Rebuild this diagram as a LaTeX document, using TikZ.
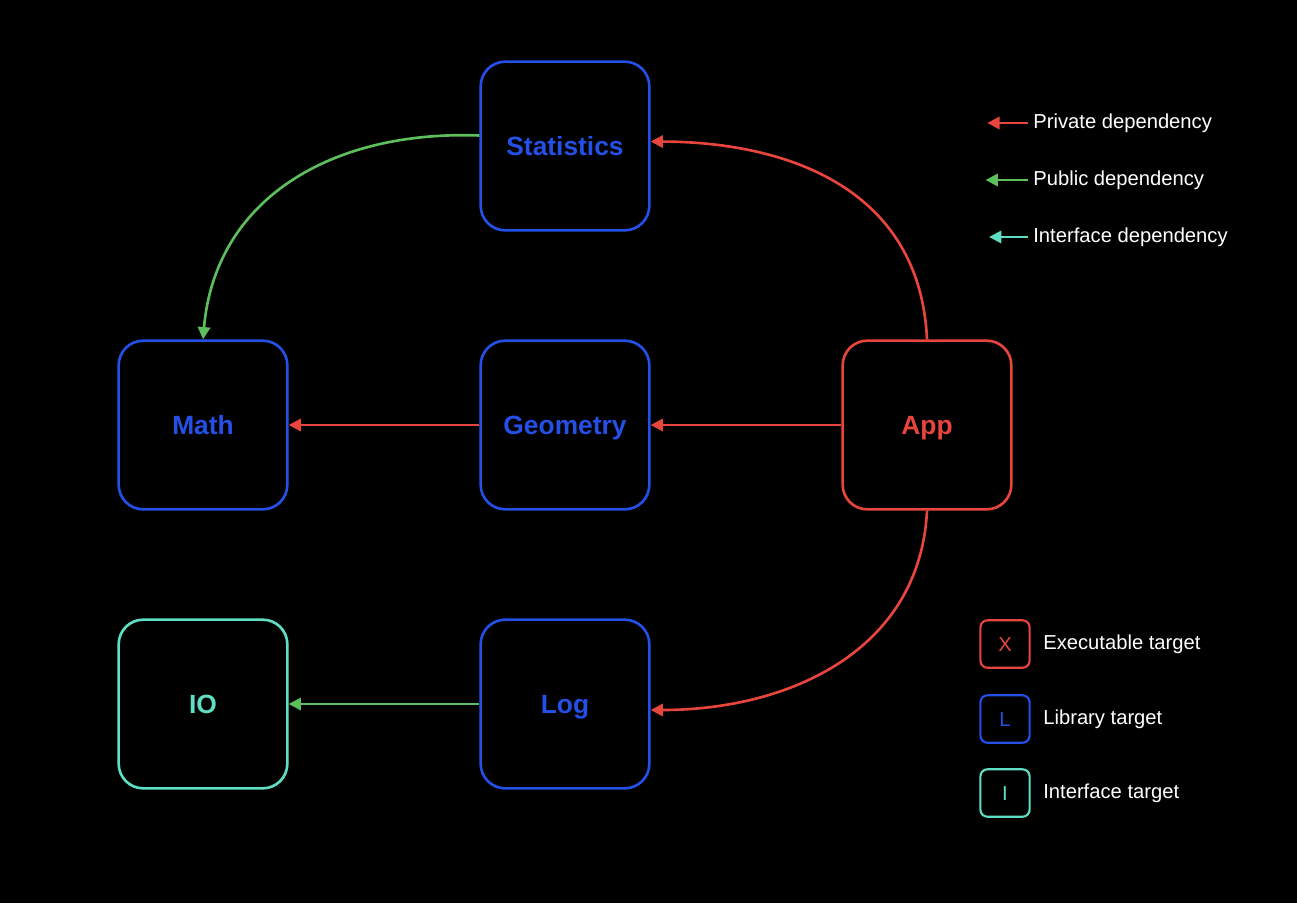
\documentclass[tikz,border=0pt]{standalone}
\usepackage{fontspec}
\setmainfont{Liberation Sans}
\usetikzlibrary{arrows.meta,positioning}
\definecolor{exered}{HTML}{E8453C}
\definecolor{libblue}{HTML}{2450E8}
\definecolor{pubgreen}{HTML}{5CBF5C}
\definecolor{ifcyan}{HTML}{5EDFC4}
\tikzset{
    >={Triangle[length=7pt,width=7pt]},
    target/.style={draw, line width=1.5pt, rounded corners=14pt,
        minimum width=96pt, minimum height=96pt,
        text height=10.7pt, text depth=0pt,
        font=\fontsize{15}{18}\selectfont\bfseries},
    executable/.style={target, draw=exered, text=exered},
    library/.style={target, draw=libblue, text=libblue},
    interfacetarget/.style={target, draw=ifcyan, text=ifcyan},
    legendbox/.style={draw, line width=1.2pt, rounded corners=4pt,
        minimum width=28pt, minimum height=27pt,
        text height=8.2pt, text depth=0pt,
        font=\fontsize{11.5}{14}\selectfont},
    legendtext/.style={text=white, anchor=west, inner sep=0pt,
        font=\fontsize{11.5}{14}\selectfont},
    private/.style={draw=exered, line width=1.5pt, ->},
    public/.style={draw=pubgreen, line width=1.5pt, ->},
    interfacedep/.style={draw=ifcyan, line width=1.5pt, ->}
}
\begin{document}
\begin{tikzpicture}[x=0.02cm,y=-0.02cm]
	\fill[black] (0,0) rectangle (1297,903);
	% targets
	\node[library] (stat) at (565,146) {Statistics};
	\node[library] (math) at (203,425) {Math};
	\node[library] (geom) at (565,425) {Geometry};
	\node[executable] (app) at (927,425) {App};
	\node[interfacetarget] (io) at (203,704) {IO};
	\node[library] (log) at (565,704) {Log};
	% dependencies
	\draw[private] (app.north) .. controls (920,190) and (790,142) .. (stat.3);
	\draw[public] (stat.173) .. controls (330,130) and (215,200) .. (math.north);
	\draw[private] (geom.west) -- (math.east);
	\draw[private] (app.west) -- (geom.east);
	\draw[private] (app.south) .. controls (920,650) and (790,710) .. (log.-4);
	\draw[public] (log.west) -- (io.east);
	% legend: dependencies
	\node[legendtext] (privtext) at (1033,123) {Private dependency};
	\node[legendtext] (pubtext) at (1033,180) {Public dependency};
	\node[legendtext] (iftext) at (1033,237) {Interface dependency};
	\coordinate[left=26pt of privtext.west] (privtip);
	\coordinate[left=27pt of pubtext.west] (pubtip);
	\coordinate[left=25pt of iftext.west] (iftip);
	\draw[private] ([xshift=-3pt]privtext.west) -- (privtip);
	\draw[public] ([xshift=-3pt]pubtext.west) -- (pubtip);
	\draw[interfacedep] ([xshift=-3pt]iftext.west) -- (iftip);
	% legend: targets
	\node[legendbox, draw=exered, text=exered] (xbox) at (1005,644) {X};
	\node[legendbox, draw=libblue, text=libblue] (lbox) at (1005,719) {L};
	\node[legendbox, draw=ifcyan, text=ifcyan] (ibox) at (1005,793) {I};
	\node[legendtext, right=7pt of xbox] {Executable target};
	\node[legendtext, right=7pt of lbox] {Library target};
	\node[legendtext, right=7pt of ibox] {Interface target};
\end{tikzpicture}
\end{document}
